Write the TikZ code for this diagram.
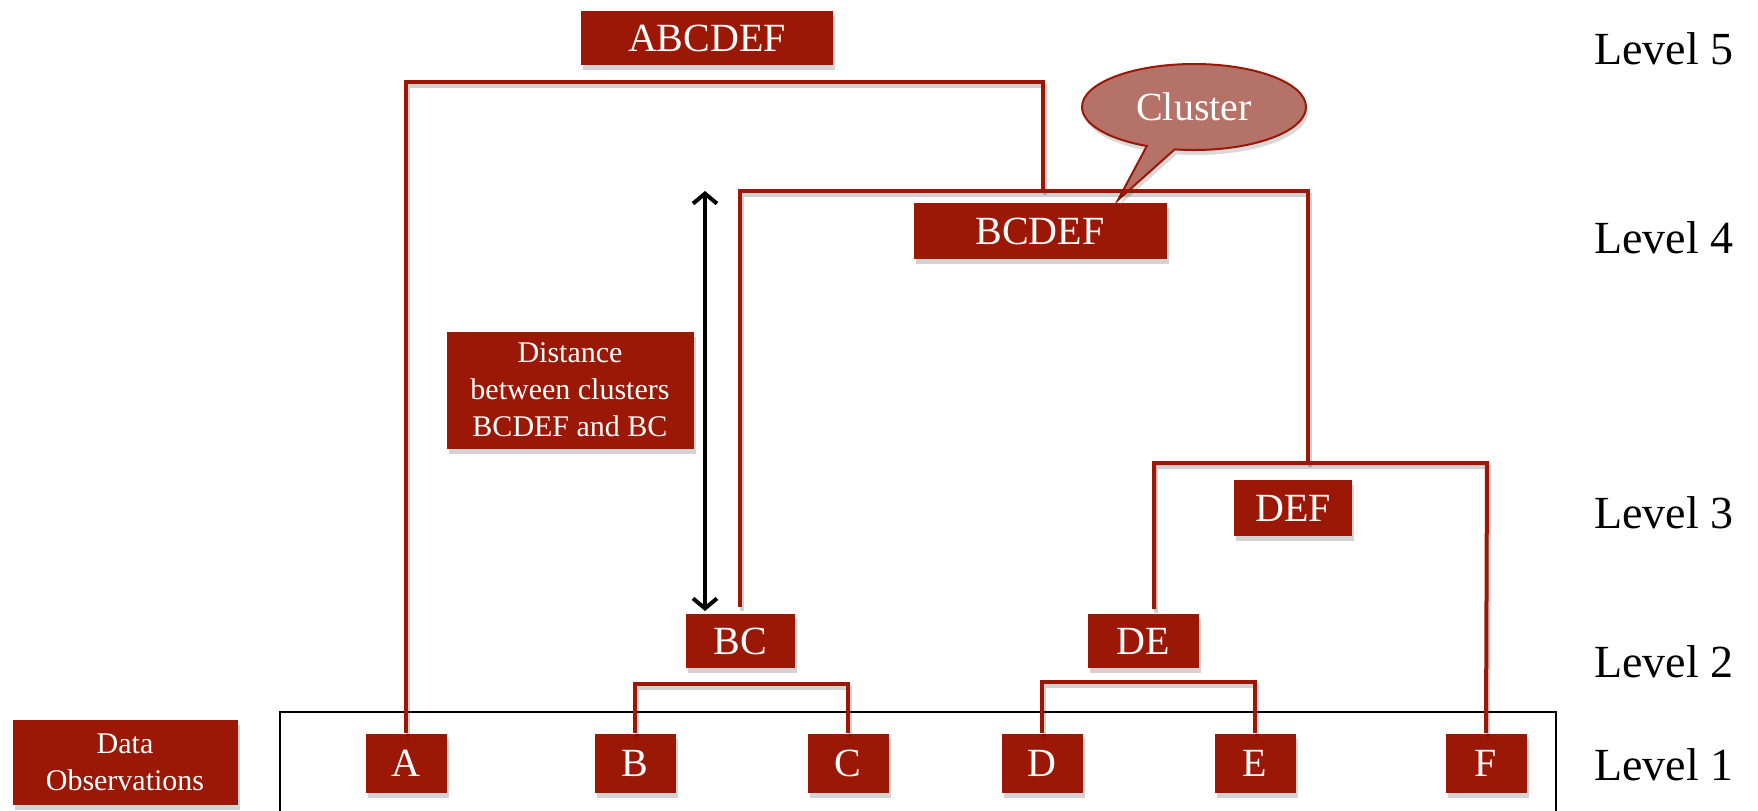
\documentclass[tikz,border=0pt]{standalone}
\usepackage{fontspec}
\setmainfont{Liberation Serif}
\usetikzlibrary{shapes.callouts,shadows,arrows.meta}
\definecolor{boxred}{RGB}{155,24,6}
\definecolor{clusterfill}{RGB}{180,114,104}
\begin{document}
\begin{tikzpicture}[x=0.5pt,y=-0.5pt,
  rbox/.style={fill=boxred, text=white, inner sep=0pt, align=center,
    drop shadow={shadow xshift=1pt, shadow yshift=-2.5pt, opacity=0.35}},
  big/.style={rbox, font=\fontsize{20}{24}\selectfont},
  leaf/.style={big, minimum width=40.5pt, minimum height=29.5pt},
  small/.style={rbox, font=\fontsize{15}{18.5}\selectfont},
  link/.style={draw=boxred, line width=2pt,
    preaction={draw=black, draw opacity=0.18, line width=2pt,
      transform canvas={xshift=1pt, yshift=-2pt}}},
  lvl/.style={font=\fontsize{23}{27}\selectfont, anchor=base west, inner sep=0pt},
  barb/.style={{Straight Barb[length=5pt,width=12pt]}-{Straight Barb[length=5pt,width=12pt]}}]
\useasboundingbox (0,0) rectangle (1758,810);

% observation frame
\draw[line width=1.2pt] (280,712) rectangle (1556,840);

% nodes
\node[big, minimum width=126pt, minimum height=27pt] (abcdef) at (707,38) {ABCDEF};
\node[big, minimum width=126.5pt, minimum height=28pt] (bcdef) at (1040,231) {BCDEF};
\node[big, minimum width=59pt, minimum height=28pt] (def) at (1293,508) {DEF};
\node[big, minimum width=54.5pt, minimum height=27pt] (bc) at (740,641) {BC};
\node[big, minimum width=55.5pt, minimum height=27pt] (de) at (1143,641) {DE};

\node[leaf] (A) at (406,763) {A};
\node[leaf] (B) at (635,763) {B};
\node[leaf] (C) at (848,763) {C};
\node[leaf] (D) at (1042,763) {D};
\node[leaf] (E) at (1255,763) {E};
\node[leaf] (F) at (1486,763) {F};

\node[small, minimum width=112.5pt, minimum height=42.5pt] (obs) at (125,762) {Data\\Observations};
\node[small, minimum width=123.5pt, minimum height=58.5pt] (dist) at (570,390) {Distance\\between clusters\\BCDEF and BC};

\node[ellipse callout, fill=clusterfill, draw=boxred, line width=1pt, text=white,
  minimum width=112pt, minimum height=43pt, inner sep=0pt,
  font=\fontsize{20}{24}\selectfont,
  callout absolute pointer={(1118,200)},
  drop shadow={shadow xshift=1pt, shadow yshift=-2.5pt, opacity=0.3}] (cluster) at (1194,107) {Cluster};

% level labels
\node[lvl] (l5) at (1594,64) {Level 5};
\node[lvl] (l4) at (1594,253) {Level 4};
\node[lvl] (l3) at (1594,528) {Level 3};
\node[lvl] (l2) at (1594,677) {Level 2};
\node[lvl] (l1) at (1594,780) {Level 1};

% junction coordinates
\coordinate (j5) at (1043,82);
\coordinate (j4) at (1043,191);
\coordinate (bcup) at (740,607);
\coordinate (h4) at (1308,191);
\coordinate (j3) at (1308,463);
\coordinate (deup) at (1154,609);
\coordinate (h3) at (1487,463);
\coordinate (h2bc) at (742,684);
\coordinate (h2de) at (1148,682);

% dendrogram links
\draw[link] (A.north) |- (j5) -- (j4);
\draw[link] (bcup) |- (h4) -- (j3);
\draw[link] (deup) |- (h3) -- (F.north);
\draw[link] (B.north) |- (h2bc) -| (C.north);
\draw[link] (D.north) |- (h2de) -| (E.north);

% distance arrow
\coordinate (arrT) at (705,191);
\coordinate (arrB) at (705,611);
\draw[barb, line width=2pt] (arrT) -- (arrB);
\end{tikzpicture}
\end{document}
